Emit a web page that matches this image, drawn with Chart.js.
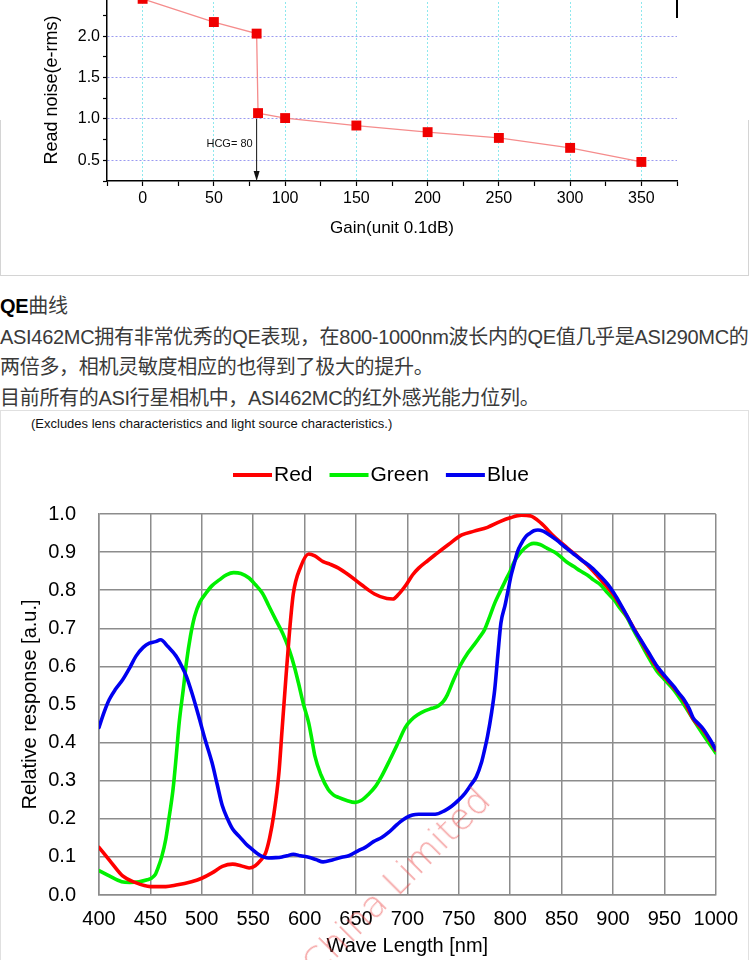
<!DOCTYPE html>
<html lang="zh-CN">
<head>
<meta charset="utf-8">
<title>ASI462MC</title>
<script src="https://cdn.jsdelivr.net/npm/chart.js@4.4.1/dist/chart.umd.min.js"></script>
<style>
  html, body { margin: 0; padding: 0; background: #fff; }
  body { position: relative; width: 750px; height: 960px; overflow: hidden;
         font-family: "Liberation Sans", Arial, "Noto Sans CJK SC", sans-serif; }
  #noiseChart { position: absolute; left: 0; top: -40px; }
  #qeChart { position: absolute; left: 0; top: 440px; }
  .panel { position: absolute; left: 0; top: 120px; width: 747px; height: 155px;
           border: 1px solid #d4d4d4; border-top: none; }
  .frame { position: absolute; left: 676px; top: 0; width: 2px; height: 18px; background: #000; }
  .txt { position: absolute; left: 0; font-size: 20px; line-height: 24px; color: #3a3a3a;
         letter-spacing: -0.3px; white-space: nowrap;
         font-family: "Liberation Sans", "Noto Sans CJK SC", sans-serif; }
  .txt b { color: #000; }
  .qebox { position: absolute; left: 0; top: 410px; width: 747px; height: 560px;
           border: 1px solid #e0e0e0; }
  .note { position: absolute; left: 31px; top: 416px; font-size: 13px; line-height: 16px; color: #111; }
  .wm { position: absolute; left: 317px; top: 948px; font-size: 36px; line-height: 36px;
        font-family: "DejaVu Sans", sans-serif; font-weight: 200;
        color: rgba(235, 70, 70, 0.5); white-space: nowrap;
        transform: rotate(-45deg); transform-origin: 0 30.5px; }
</style>
</head>
<body>

<div class="panel"></div>
<div class="frame"></div>
<canvas id="noiseChart" width="750" height="320"></canvas>

<div class="txt" style="top:294px"><b>QE</b>曲线</div>
<div class="txt" style="top:325px">ASI462MC拥有非常优秀的QE表现，在800-1000nm波长内的QE值几乎是ASI290MC的</div>
<div class="txt" style="top:355px">两倍多，相机灵敏度相应的也得到了极大的提升。</div>
<div class="txt" style="top:386px">目前所有的ASI行星相机中，ASI462MC的红外感光能力位列。</div>

<div class="qebox"></div>
<div class="note">(Excludes lens characteristics and light source characteristics.)</div>
<canvas id="qeChart" width="750" height="520"></canvas>
<div class="wm">China Limited</div>

<script>
// read noise vs gain
const gainSteps = [0, 50, 80, 81, 100, 150, 200, 250, 300, 350];
const readNoise = [2.45, 2.17, 2.03, 1.07, 1.01, 0.92, 0.84, 0.77, 0.65, 0.48];
const gainLabels = [0, 50, 100, 150, 200, 250, 300, 350];
const noiseLabels = [0.5, 1.0, 1.5, 2.0, 2.5];
const hcgGain = 80;

// QE curves (wavelength nm / relative response)
const redNm = [400,412,423,435,450,465,475,490,500,510,520,530,538,546,552,557,562,566,570,575,578,581,585,589,596,604,610,618,625,633,643,655,668,680,686,691,699,705,711,720,727,740,753,765,778,790,800,811,820,830,843,856,875,888,901,914,927,943,959,969,978,988,1000];
const redQE = [.125,.085,.05,.033,.022,.022,.026,.035,.044,.058,.075,.081,.077,.071,.077,.09,.11,.15,.21,.32,.43,.54,.68,.79,.86,.895,.89,.875,.868,.858,.84,.815,.79,.778,.777,.788,.815,.84,.858,.878,.893,.92,.945,.955,.965,.98,.99,.997,.995,.976,.94,.91,.866,.828,.786,.73,.668,.596,.545,.51,.462,.432,.38];

const greenNm = [400,410,422,430,439,447,451,455,457,461,465,468,472,475,478,482,485,489,493,498,504,510,517,524,531,538,546,552,559,565,572,579,585,590,594,599,604,607,610,616,623,628,633,641,649,655,662,669,675,683,691,698,704,710,717,724,730,735,739,745,752,758,765,770,775,780,785,790,795,800,804,809,814,819,823,829,836,843,849,855,862,868,875,881,888,894,901,907,914,920,927,935,943,951,959,969,978,988,1000];
const greenQE = [.064,.05,.035,.033,.035,.04,.044,.055,.068,.1,.147,.2,.277,.36,.452,.54,.609,.68,.731,.768,.792,.812,.827,.84,.846,.844,.832,.815,.792,.76,.722,.685,.644,.6,.557,.5,.452,.41,.365,.315,.277,.263,.256,.248,.243,.248,.264,.285,.312,.355,.4,.44,.46,.473,.483,.49,.496,.508,.526,.565,.605,.632,.657,.676,.696,.73,.766,.795,.823,.85,.875,.895,.91,.92,.923,.92,.91,.9,.888,.874,.862,.851,.84,.827,.814,.795,.775,.752,.727,.695,.661,.622,.587,.563,.539,.5,.461,.42,.373];

const blueNm = [400,405,410,416,423,430,436,443,449,455,460,467,475,480,485,491,497,503,510,515,520,525,530,537,543,549,555,560,565,572,578,583,589,596,604,611,618,627,636,643,652,659,667,675,682,688,693,699,705,711,720,727,736,743,749,756,762,767,772,775,778,782,785,788,791,795,798,801,804,807,811,815,819,823,827,832,836,845,853,861,869,879,888,895,901,907,914,920,927,935,943,951,959,964,969,974,978,983,988,994,1000];
const blueQE = [.44,.48,.513,.54,.565,.597,.627,.65,.661,.665,.67,.652,.627,.603,.574,.525,.469,.41,.347,.29,.234,.2,.173,.152,.134,.12,.107,.1,.097,.098,.1,.103,.107,.103,.099,.093,.087,.092,.099,.103,.116,.125,.14,.151,.165,.18,.192,.203,.21,.212,.212,.212,.221,.233,.247,.267,.29,.31,.347,.38,.417,.48,.54,.63,.714,.76,.8,.84,.87,.9,.923,.94,.949,.956,.958,.955,.949,.932,.914,.897,.88,.86,.836,.815,.792,.765,.731,.7,.67,.635,.6,.573,.548,.53,.513,.49,.465,.45,.435,.41,.382];

const wlTicks = [400,450,500,550,600,650,700,750,800,850,900,950,1000];
const qeTicks = [0,0.1,0.2,0.3,0.4,0.5,0.6,0.7,0.8,0.9,1.0];

Chart.defaults.font.family = "'Liberation Sans', Arial, sans-serif";
Chart.defaults.color = '#000';
Chart.defaults.animation = false;

const zip = (xs, ys) => xs.map((x, i) => ({ x: x, y: ys[i] }));

// HCG arrow + rotated y title for the noise chart
const noiseExtras = {
    id: 'noiseExtras',
    afterDraw(chart) {
        const { ctx, chartArea, scales: { x, y } } = chart;
        const px = x.getPixelForValue(hcgGain);
        const yFrom = y.getPixelForValue(1.0);
        const yTo = chartArea.bottom;
        ctx.save();
        ctx.strokeStyle = '#111';
        ctx.fillStyle = '#111';
        ctx.lineWidth = 1;
        ctx.beginPath();
        ctx.moveTo(px, yFrom);
        ctx.lineTo(px, yTo - 8);
        ctx.stroke();
        ctx.beginPath();
        ctx.moveTo(px - 3, yTo - 10);
        ctx.lineTo(px, yTo);
        ctx.lineTo(px + 3, yTo - 10);
        ctx.closePath();
        ctx.fill();
        ctx.font = "11px 'Liberation Sans', Arial";
        ctx.textAlign = 'right';
        ctx.textBaseline = 'middle';
        ctx.fillText('HCG= ' + hcgGain, px - 4, y.getPixelForValue(0.7));

        ctx.translate(52, 130);
        ctx.rotate(-Math.PI / 2);
        ctx.font = "18px 'Liberation Sans', Arial";
        ctx.textAlign = 'center';
        ctx.fillStyle = '#000';
        ctx.fillText('Read noise(e-rms)', 0, 0);
        ctx.restore();
    }
};

new Chart(document.getElementById('noiseChart'), {
    type: 'line',
    data: {
        datasets: [{
            data: zip(gainSteps, readNoise),
            borderColor: '#f58c8c',
            borderWidth: 1.3,
            backgroundColor: '#f00000',
            pointBackgroundColor: '#f00000',
            pointBorderWidth: 0,
            pointStyle: 'rect',
            pointRadius: 7,
            tension: 0,
            clip: false,
        }],
    },
    options: {
        responsive: false,
        layout: { padding: { top: 14, right: 73, left: 0, bottom: 0 } },
        plugins: { legend: { display: false }, tooltip: { enabled: false } },
        scales: {
            x: {
                type: 'linear',
                min: -25, max: 375,
                afterFit: s => { s.height = 99; },
                ticks: {
                    stepSize: 25,
                    padding: 3,
                    autoSkip: false,
                    maxRotation: 0,
                    font: { size: 16 },
                    callback: v => gainLabels.includes(v) ? String(v) : '',
                },
                grid: {
                    color: c => gainLabels.includes(c.tick.value) ? '#8ee8ee' : 'transparent',
                    lineWidth: 1,
                    tickColor: '#000',
                    tickLength: 5,
                    tickWidth: 1.2,
                },
                border: { color: '#000', width: 1.5, dash: [2, 2] },
                title: {
                    display: true,
                    text: 'Gain(unit 0.1dB)',
                    font: { size: 17 },
                    padding: { top: 0, bottom: 41 },
                },
            },
            y: {
                min: 0.25, max: 2.75,
                afterFit: s => { s.width = 107; },
                ticks: {
                    stepSize: 0.25,
                    padding: 3,
                    autoSkip: false,
                    font: { size: 16 },
                    callback: v => noiseLabels.includes(v) ? v.toFixed(1) : '',
                },
                grid: {
                    color: c => noiseLabels.includes(c.tick.value) ? '#9a9af0' : 'transparent',
                    lineWidth: 1,
                    tickColor: '#000',
                    tickLength: 4,
                    tickWidth: 1.2,
                },
                border: { color: '#000', width: 1.5, dash: [2, 2] },
            },
        },
    },
    plugins: [noiseExtras],
});

// legend row drawn from the datasets: short line, tight gap, label
const lineLegend = {
    id: 'lineLegend',
    afterDraw(chart, args, opts) {
        const { ctx } = chart;
        ctx.save();
        ctx.font = "21px 'Liberation Sans', Arial";
        ctx.textBaseline = 'middle';
        ctx.textAlign = 'left';
        let x = opts.x;
        chart.data.datasets.forEach(ds => {
            ctx.strokeStyle = ds.borderColor;
            ctx.lineWidth = 4;
            ctx.beginPath();
            ctx.moveTo(x, opts.y);
            ctx.lineTo(x + opts.lineLen, opts.y);
            ctx.stroke();
            x += opts.lineLen + opts.gap;
            ctx.fillStyle = '#000';
            ctx.fillText(ds.label, x, opts.y);
            x += ctx.measureText(ds.label).width + opts.spacing;
        });
        ctx.restore();
    }
};

const gridGrey = '#8c8c8c';
const curveWidth = 3.6;

new Chart(document.getElementById('qeChart'), {
    type: 'line',
    data: {
        datasets: [
            { label: 'Red', data: zip(redNm, redQE), borderColor: '#ff0000', backgroundColor: '#ff0000', borderWidth: curveWidth, order: 1 },
            { label: 'Green', data: zip(greenNm, greenQE), borderColor: '#00f000', backgroundColor: '#00f000', borderWidth: curveWidth, order: 2 },
            { label: 'Blue', data: zip(blueNm, blueQE), borderColor: '#0000f0', backgroundColor: '#0000f0', borderWidth: curveWidth, order: 0 },
        ],
    },
    options: {
        responsive: false,
        layout: { padding: { top: 74, right: 30, left: 0, bottom: 0 } },
        elements: {
            line: { cubicInterpolationMode: 'monotone', borderJoinStyle: 'round', borderCapStyle: 'round' },
            point: { radius: 0, hoverRadius: 0 },
        },
        plugins: {
            tooltip: { enabled: false },
            legend: { display: false },
            lineLegend: { x: 233, y: 35, lineLen: 39, gap: 2, spacing: 17 },
        },
        scales: {
            x: {
                type: 'linear',
                min: 400, max: 1000,
                afterFit: s => { s.height = 65; },
                afterBuildTicks: s => { s.ticks = wlTicks.map(v => ({ value: v })); },
                ticks: { padding: 12, autoSkip: false, maxRotation: 0, font: { size: 20 }, color: '#000', callback: v => String(v) },
                grid: { color: gridGrey, lineWidth: 1.5, drawTicks: false },
                border: { color: gridGrey, width: 1.5 },
                title: {
                    display: true,
                    text: 'Wave Length [nm]',
                    font: { size: 20 },
                    color: '#000',
                    padding: { top: 0, bottom: 2 },
                },
            },
            y: {
                min: 0, max: 1,
                afterFit: s => { s.width = 99; },
                afterBuildTicks: s => { s.ticks = qeTicks.map(v => ({ value: v })); },
                ticks: { padding: 23, autoSkip: false, font: { size: 20 }, color: '#000', callback: v => v.toFixed(1) },
                grid: { color: gridGrey, lineWidth: 1.5, drawTicks: false },
                border: { color: gridGrey, width: 1.5 },
                title: {
                    display: true,
                    text: 'Relative response [a.u.]',
                    font: { size: 20 },
                    color: '#000',
                    padding: { top: 18, bottom: 0 },
                },
            },
        },
    },
    plugins: [lineLegend],
});
</script>
</body>
</html>
